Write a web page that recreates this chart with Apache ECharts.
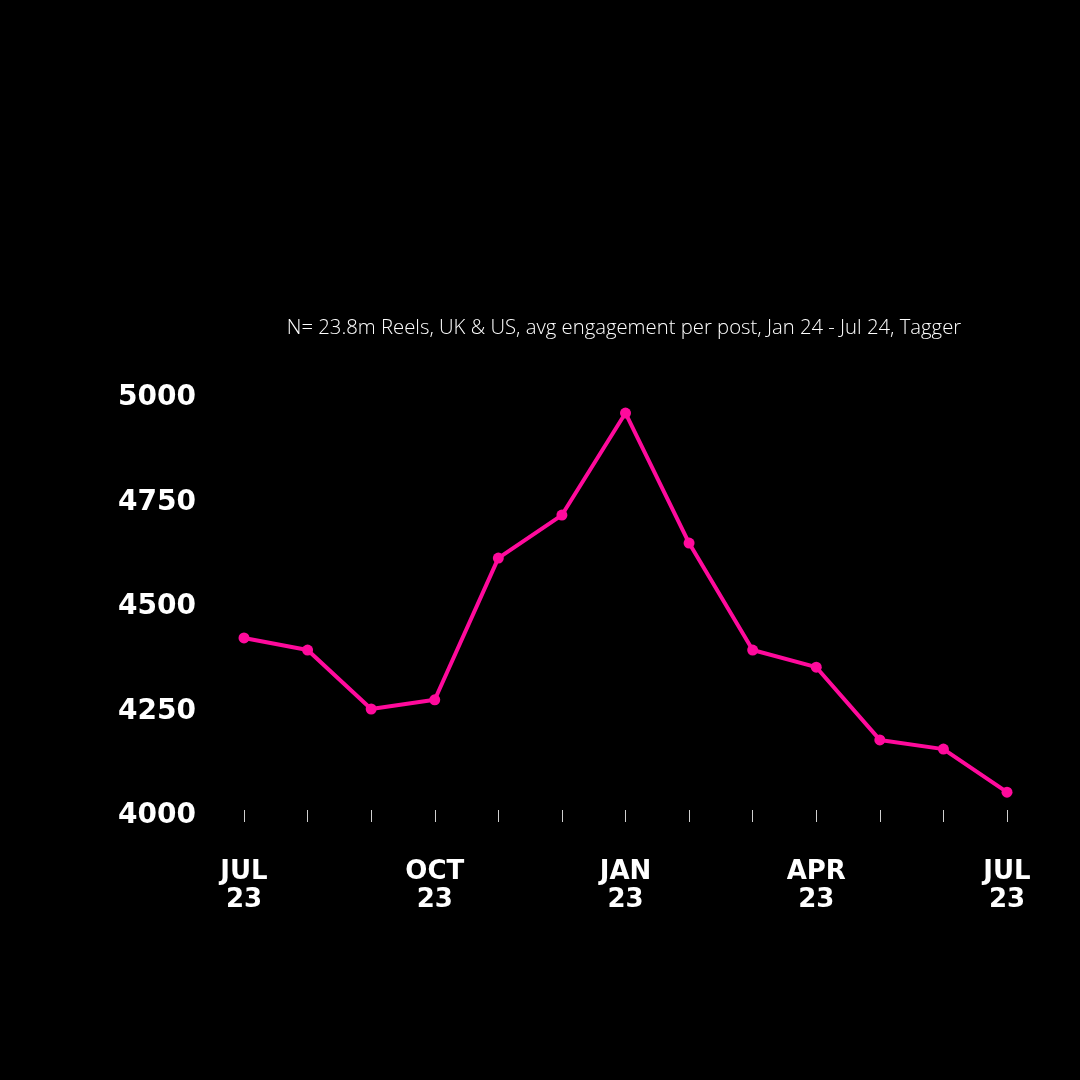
<!DOCTYPE html>
<html>
<head>
<meta charset="utf-8">
<style>
  html, body { margin: 0; padding: 0; background: #000; }
  #chart { width: 1080px; height: 1080px; }
</style>
<script src="https://cdn.jsdelivr.net/npm/echarts@6/dist/echarts.min.js"></script>
</head>
<body>
<div id="chart"></div>
<script>
const months = ['JUL', 'AUG', 'SEP', 'OCT', 'NOV', 'DEC', 'JAN', 'FEB', 'MAR', 'APR', 'MAY', 'JUN', 'JUL'];
const years = ['23', '23', '23', '23', '23', '23', '23', '23', '23', '23', '23', '23', '23'];
const engagement = [4426, 4397, 4256, 4278, 4617, 4720, 4964, 4653, 4397, 4356, 4182, 4160, 4057];
const yTicks = [4000, 4250, 4500, 4750, 5000];
const subtitle = 'N= 23.8m Reels, UK & US, avg engagement per post, Jan 24 - Jul 24, Tagger';

const categories = months.map((m, i) => m + '\n' + years[i]);

const chart = echarts.init(document.getElementById('chart'));
chart.setOption({
  backgroundColor: '#000000',
  animation: false,
  title: {
    text: subtitle,
    left: 619,
    textAlign: 'center',
    top: 313,
    textStyle: {
      color: '#ffffff',
      fontFamily: 'Open Sans',
      fontWeight: 300,
      fontSize: 20.3
    }
  },
  grid: {
    left: 244,
    right: 73,
    top: 398,
    bottom: 264,
    containLabel: false
  },
  xAxis: {
    type: 'category',
    data: categories,
    boundaryGap: false,
    offset: -6,
    axisLine: { show: false },
    axisTick: {
      show: true,
      alignWithLabel: true,
      interval: 0,
      length: 12,
      lineStyle: { color: '#d0d0d0', width: 1 }
    },
    axisLabel: {
      interval: 2,
      margin: 48,
      color: '#ffffff',
      fontFamily: 'DejaVu Sans',
      fontWeight: 'bold',
      fontSize: 26,
      lineHeight: 28,
      align: 'center'
    },
    splitLine: { show: false }
  },
  yAxis: {
    type: 'value',
    min: yTicks[0],
    max: yTicks[yTicks.length - 1],
    interval: yTicks[1] - yTicks[0],
    axisLine: { show: false },
    axisTick: { show: false },
    splitLine: { show: false },
    axisLabel: {
      margin: 48,
      color: '#ffffff',
      fontFamily: 'DejaVu Sans',
      fontWeight: 'bold',
      fontSize: 28,
      formatter: (v) => String(v)
    }
  },
  series: [{
    type: 'line',
    data: engagement,
    symbol: 'circle',
    symbolSize: 11,
    lineStyle: { color: '#ff0a9c', width: 4 },
    itemStyle: { color: '#ff0a9c' }
  }]
});
</script>
</body>
</html>
